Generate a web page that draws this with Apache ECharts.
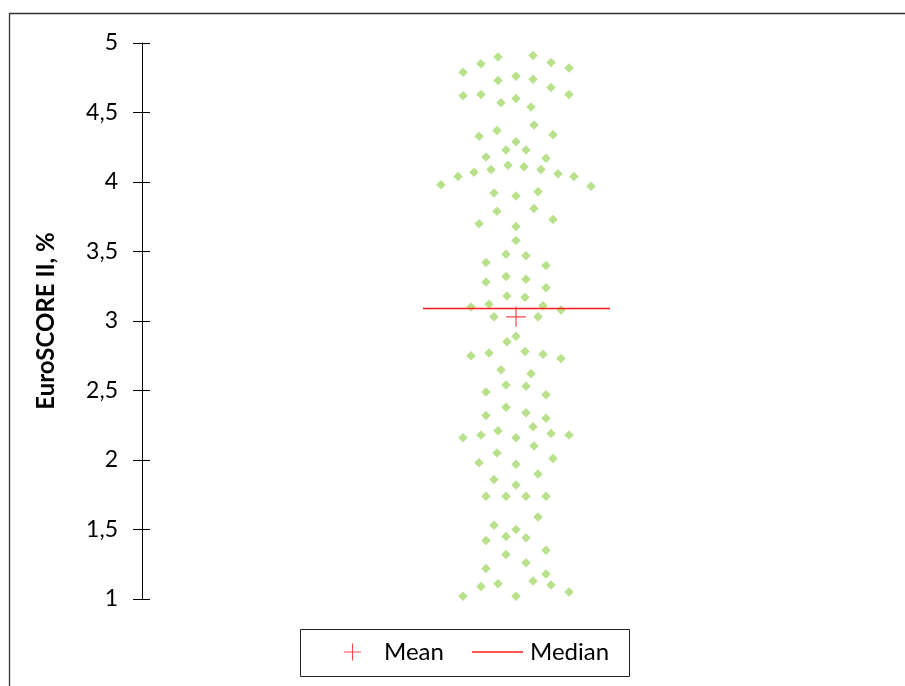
<!DOCTYPE html>
<html>
<head>
<meta charset="utf-8">
<script src="https://cdn.jsdelivr.net/npm/echarts@6/dist/echarts.min.js"></script>
<style>html,body{margin:0;padding:0;background:#fff;}#c{width:905px;height:686px;}</style>
</head>
<body>
<div id="c"></div>
<script>
// Horizontal jitter position of each point (dot-plot spread, arbitrary units)
var jitterX = [
 -5.3,-3.5,-1.8,1.7,3.5,5.3,-1.8,0,1.7,3.5,-5.3,-3.5,-1.5,0,1.5,5.3,
 1.8,-1.9,-3.7,3.7,0,-1.0,1.0,-3.0,3.0,-0.8,0.8,-2.5,2.5,-4.2,4.2,-5.8,5.8,-7.5,7.5,
 -2.2,0,2.2,-1.9,1.8,-3.7,3.7,0,0,-1.0,1.0,-3.0,3.0,-1.0,1.0,-3.0,3.0,-0.9,0.9,
 -4.5,-2.7,2.7,4.5,-2.2,2.2,
 0,-0.9,-4.5,-2.7,0.9,2.7,4.5,-1.5,1.5,-1.0,1.0,-3.0,3.0,-1.0,1.0,-3.0,3.0,
 1.7,-1.8,-3.5,-5.3,0,3.5,5.3,1.8,-1.9,-3.7,0,3.7,
 -2.2,2.2,0,-3.0,-1.0,1.0,3.0,2.2,-2.2,0,-1.0,1.0,-3.0,3.0,-1.0,1.0,-3.0,3.0,
 1.7,-1.8,-3.5,3.5,-5.3,0,5.3
];
// EuroSCORE II values (%)
var euroScore = [
 4.79,4.85,4.90,4.91,4.86,4.82,4.73,4.76,4.74,4.68,4.62,4.63,4.57,4.60,4.54,4.63,
 4.41,4.37,4.33,4.34,4.29,4.23,4.23,4.18,4.17,4.12,4.11,4.09,4.09,4.07,4.06,4.04,4.04,3.98,3.97,
 3.92,3.90,3.93,3.79,3.81,3.70,3.73,3.68,3.58,3.48,3.47,3.42,3.40,3.32,3.30,3.28,3.24,3.18,3.17,
 3.10,3.12,3.11,3.08,3.03,3.03,
 2.89,2.85,2.75,2.77,2.78,2.76,2.73,2.65,2.62,2.54,2.53,2.49,2.47,2.38,2.34,2.32,2.30,
 2.24,2.21,2.18,2.16,2.16,2.19,2.18,2.10,2.05,1.98,1.97,2.01,
 1.86,1.90,1.82,1.74,1.74,1.74,1.74,1.59,1.53,1.50,1.45,1.44,1.42,1.35,1.32,1.26,1.22,1.18,
 1.13,1.11,1.09,1.10,1.02,1.02,1.05
];
var meanValue = 3.03;
var medianValue = 3.09;
var medianSpan = [-9.3, 9.4];
var yTicks = ['1','1,5','2','2,5','3','3,5','4','4,5','5'];

var pts = jitterX.map(function(x, i){ return [x, euroScore[i]]; });
var plusPath = 'path://M9.4,0H10.6V20H9.4Z M0,9.4H20V10.6H0Z';
var FONT = 'Lato';

var chart = echarts.init(document.getElementById('c'), null, {renderer:'canvas'});
chart.setOption({
  animation: false,
  backgroundColor: '#ffffff',
  grid: {left: 142, top: 43, width: 748, height: 556, containLabel: false},
  xAxis: {type: 'value', min: -37.4, max: 37.4, show: false},
  yAxis: [{
    type: 'value', min: 1, max: 5, interval: 0.5,
    name: 'EuroSCORE II, %', nameLocation: 'middle', nameGap: 84, nameRotate: 90,
    nameTextStyle: {fontFamily: FONT, fontWeight: 'bold', fontSize: 24, color: '#000'},
    axisLine: {show: true, onZero: false, lineStyle: {color: '#000', width: 1}},
    axisTick: {show: true, inside: false, length: 9, lineStyle: {color: '#000', width: 1}},
    axisLabel: {margin: 24, fontFamily: FONT, fontSize: 23, color: '#000',
      formatter: function(v){ var i = Math.round((v - 1) / 0.5); return yTicks[i]; }},
    splitLine: {show: false}
  }, {
    type: 'value', min: 1, max: 5, interval: 0.5, position: 'left',
    axisLine: {show: false, onZero: false},
    axisTick: {show: true, inside: true, length: 8, lineStyle: {color: '#000', width: 1}},
    axisLabel: {show: false},
    splitLine: {show: false}
  }],
  legend: [{
    left: 344, top: 640, itemWidth: 17, itemHeight: 17, padding: 0,
    data: [{name: 'Mean', icon: plusPath}],
    textStyle: {fontFamily: FONT, fontSize: 24, color: '#000', padding: [0,0,0,18]}
  }, {
    left: 472, top: 640, itemWidth: 51, itemHeight: 1.5, padding: 0,
    data: [{name: 'Median', icon: 'rect'}],
    textStyle: {fontFamily: FONT, fontSize: 24, color: '#000', padding: [0,0,0,2]}
  }],
  graphic: [
    {type: 'rect', silent: true, z: 100,
     shape: {x: 9.5, y: 13.5, width: 1000, height: 1000},
     style: {fill: 'none', stroke: '#333', lineWidth: 1.3}},
    {type: 'rect', silent: true, z: 100,
     shape: {x: 300.5, y: 629.5, width: 329, height: 47},
     style: {fill: 'none', stroke: '#222', lineWidth: 1}}
  ],
  series: [{
    name: 'EuroSCORE II', type: 'scatter', data: pts,
    symbol: 'diamond', symbolSize: [9.5, 9.5],
    itemStyle: {color: '#A8D96F'}, z: 2
  }, {
    name: 'Median', type: 'line', data: [[medianSpan[0], medianValue], [medianSpan[1], medianValue]],
    symbol: 'none', lineStyle: {color: '#FF1A1A', width: 1.5}, itemStyle: {color: '#FF1A1A'}, z: 3
  }, {
    name: 'Mean', type: 'scatter', data: [[0, meanValue]],
    symbol: plusPath, symbolSize: 20,
    itemStyle: {color: '#FF1A1A'}, z: 4
  }]
});
</script>
</body>
</html>
